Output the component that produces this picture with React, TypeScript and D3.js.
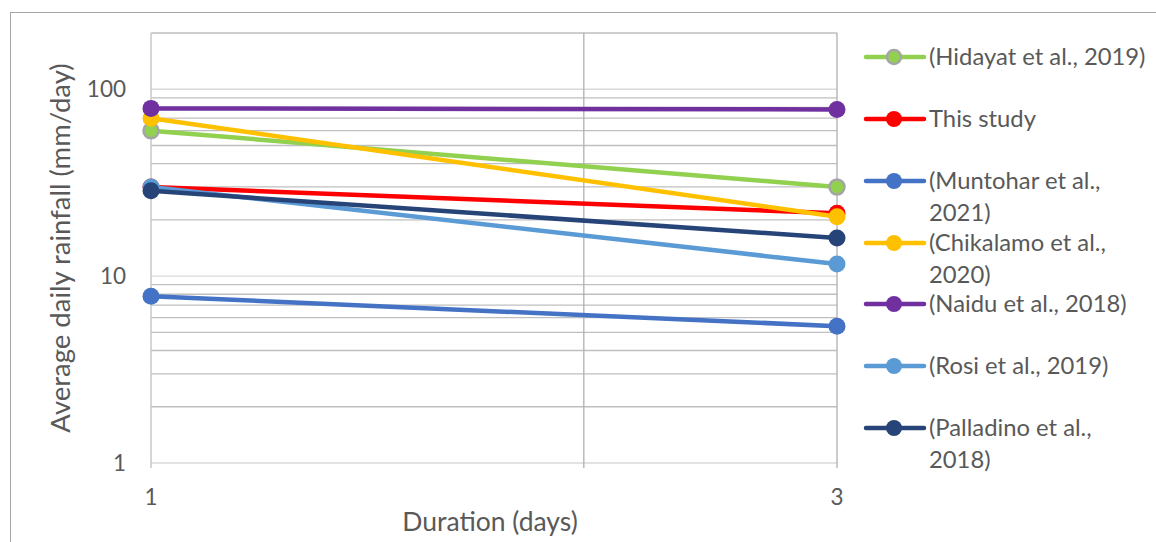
import React from "react";
import * as d3 from "d3";

const durations = [1, 3];
const seriesNames = [
  "(Hidayat et al., 2019)",
  "This study",
  "(Muntohar et al., 2021)",
  "(Chikalamo et al., 2020)",
  "(Naidu et al., 2018)",
  "(Rosi et al., 2019)",
  "(Palladino et al., 2018)",
];
const legendLines = [
  ["(Hidayat et al., 2019)"],
  ["This study"],
  ["(Muntohar et al.,", "2021)"],
  ["(Chikalamo et al.,", "2020)"],
  ["(Naidu et al., 2018)"],
  ["(Rosi et al., 2019)"],
  ["(Palladino et al.,", "2018)"],
];
const hidayat = [60, 30];
const thisStudy = [30, 21.7];
const muntohar = [7.8, 5.4];
const chikalamo = [70, 20.8];
const naidu = [79, 78];
const rosi = [30, 11.6];
const palladino = [28.6, 16];
const seriesColors = ["#92d050", "#ff0000", "#4472c4", "#ffc000", "#7030a0", "#5b9bd5", "#264478"];
const yTicks = [1, 10, 100];
const xTicks = [1, 3];

const allValues = [hidayat, thisStudy, muntohar, chikalamo, naidu, rosi, palladino];

export default function App() {
  const W = 1156, H = 542;
  const left = 151, right = 837, top = 33, bottom = 463;
  const x = d3.scaleLog().domain([1, 3]).range([left, right]);
  const y = d3.scaleLog().domain([1, 200]).range([bottom, top]);
  const line = d3.line<number>().x((_, i) => x(durations[i])).y((v) => y(v));
  const font = "Lato, 'Open Sans', sans-serif";
  const txt = "#595959";

  const minor: number[] = [];
  for (const dec of [1, 10, 100]) {
    for (let k = 2; k <= 9; k++) {
      const v = dec * k;
      if (v <= 200) minor.push(v);
    }
  }

  const legendY = [57, 119, 181, 243, 304, 366, 428];

  return (
    <svg width={W} height={H} style={{ position: "absolute", left: 0, top: 0, background: "#fff" }}>
      <rect x={10.5} y={12.5} width={W + 10} height={H + 10} fill="#fff" stroke="#a6a6a6" strokeWidth={1} />
      {/* minor gridlines */}
      {minor.map((v) => (
        <line key={"m" + v} x1={left} x2={right} y1={y(v)} y2={y(v)} stroke="#bfbfbf" strokeWidth={1.3} />
      ))}
      {yTicks.map((v) => (
        <line key={"M" + v} x1={left} x2={right} y1={y(v)} y2={y(v)} stroke="#d9d9d9" strokeWidth={1.3} />
      ))}
      {/* vertical gridlines */}
      {[2, 3].map((v) => (
        <line key={"v" + v} x1={x(v)} x2={x(v)} y1={top} y2={bottom + 5} stroke="#b0b0b0" strokeWidth={1.3} />
      ))}
      <line x1={left} x2={left} y1={top} y2={bottom + 5} stroke="#c8c8c8" strokeWidth={1.5} />
      {/* y tick labels */}
      {yTicks.map((v) => (
        <text key={"yt" + v} x={126} y={y(v)} dy="0.35em" textAnchor="end" fontFamily={font} fontSize={22.5} fill={txt}>
          {v}
        </text>
      ))}
      {xTicks.map((v) => (
        <text key={"xt" + v} x={x(v)} y={497} dy="0.35em" textAnchor="middle" fontFamily={font} fontSize={22.5} fill={txt}>
          {v}
        </text>
      ))}
      <text x={490} y={522} dy="0.35em" textAnchor="middle" fontFamily={font} fontSize={26.5} fill={txt}>
        Duration (days)
      </text>
      <text
        transform={`translate(60,${(top + bottom) / 2}) rotate(-90)`}
        dy="0.35em"
        textAnchor="middle"
        fontFamily={font}
        fontSize={27.5}
        fill={txt}
      >
        Average daily rainfall (mm/day)
      </text>
      {/* series */}
      {allValues.map((vals, si) => (
        <g key={"s" + si}>
          <path d={line(vals) || ""} fill="none" stroke={seriesColors[si]} strokeWidth={4.5} strokeLinecap="round" />
          {vals.map((v, i) => (
            <circle
              key={i}
              cx={x(durations[i])}
              cy={y(v)}
              r={si === 0 ? 7.5 : 8.5}
              fill={seriesColors[si]}
              stroke={si === 0 ? "#a5a5a5" : "none"}
              strokeWidth={si === 0 ? 2.5 : 0}
            />
          ))}
        </g>
      ))}
      {/* legend */}
      {seriesNames.map((name, si) => (
        <g key={"l" + name}>
          <line x1={866} x2={924} y1={legendY[si]} y2={legendY[si]} stroke={seriesColors[si]} strokeWidth={4.5} strokeLinecap="round" />
          <circle
            cx={894}
            cy={legendY[si]}
            r={si === 0 ? 7 : 8}
            fill={seriesColors[si]}
            stroke={si === 0 ? "#a5a5a5" : "none"}
            strokeWidth={si === 0 ? 2.5 : 0}
          />
          {legendLines[si].map((ln, li) => (
            <text key={li} x={929} y={legendY[si] + li * 32} dy="0.35em" fontFamily={font} fontSize={23.8} fill={txt}>
              {ln}
            </text>
          ))}
        </g>
      ))}
    </svg>
  );
}
